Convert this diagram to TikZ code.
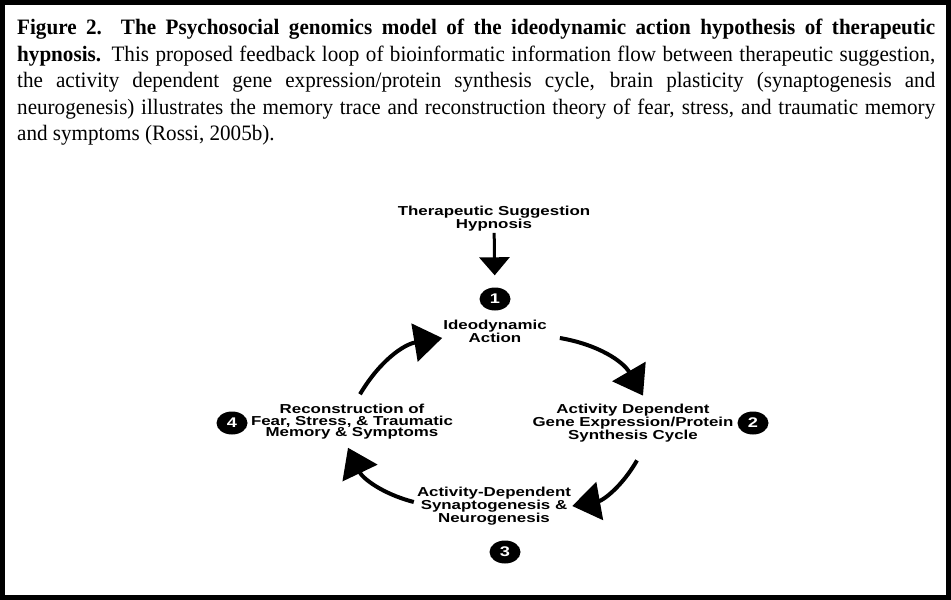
\documentclass[tikz,border=0pt]{standalone}
\usepackage{fontspec}
\setmainfont{Liberation Serif}[FakeStretch=0.96]
\newfontfamily\diagfont{Liberation Sans}[FakeStretch=1.3]
\usetikzlibrary{arrows.meta,shapes.geometric}

\tikzstyle{cS}=[text width=918pt, align=justify, inner sep=0pt, font=\fontsize{22}{26.5}\selectfont]
\tikzstyle{tS}=[align=center, inner sep=1pt, font={\diagfont\bfseries\fontsize{13}{11.5}\selectfont}]
\tikzstyle{nC}=[ellipse, fill=black, text=white, minimum width=31pt, minimum height=23pt, inner sep=0pt, font={\diagfont\bfseries\fontsize{14}{14}\selectfont}]
\tikzstyle{eD}=[line width=3pt, -{Triangle[length=18pt,width=30pt]}]
\tikzstyle{eA}=[line width=4pt, -{Triangle[length=28pt,width=38pt]}, bend left=25]

\begin{document}
\begin{tikzpicture}[x=1pt,y=-1pt]
    \useasboundingbox (0,0) rectangle (951,600);
    \draw[line width=5pt] (2.5,2.5) rectangle (948.5,597.5);

    \draw (17,19) node[cS, anchor=north west] (cap) {\textbf{Figure 2.\ \ The Psychosocial genomics model of the ideodynamic action hypothesis of therapeutic}\linebreak \textbf{hypnosis.} This proposed feedback loop of bioinformatic information flow between therapeutic suggestion,\linebreak the activity dependent gene expression/protein synthesis cycle, brain plasticity (synaptogenesis and\linebreak neurogenesis) illustrates the memory trace and reconstruction theory of fear, stress, and traumatic memory\linebreak and symptoms (Rossi, 2005b).};

    \draw (494,219) node[tS] (sugg) {Therapeutic Suggestion\\Hypnosis};
    \draw (495,299) node[nC] (n1) {1};
    \draw (495,331) node[tS] (ideo) {Ideodynamic\\Action};
    \draw (633,423) node[tS] (gene) {Activity Dependent\\Gene Expression/Protein\\Synthesis Cycle};
    \draw (753,423) node[nC] (n2) {2};
    \draw (494,506) node[tS] (syn) {Activity-Dependent\\Synaptogenesis \&\\Neurogenesis};
    \draw (505,552) node[nC] (n3) {3};
    \draw (352,422) node[tS] (rec) {Reconstruction of\\Fear, Stress, \& Traumatic\\Memory \& Symptoms};
    \draw (232,423) node[nC] (n4) {4};

    \path
        (sugg) edge[eD, shorten >=12pt] (n1)
        ([shift={(12,7)}]ideo.east) edge[eA] ([shift={(10,-7)}]gene.north)
        ([shift={(4,17)}]gene.south) edge[eA] (syn.east)
        ([shift={(-2,-4)}]syn.west) edge[eA] ([shift={(-4,7)}]rec.south)
        ([shift={(8,-9)}]rec.north) edge[eA] ([shift={(0,7)}]ideo.west)
    ;
\end{tikzpicture}
\end{document}
